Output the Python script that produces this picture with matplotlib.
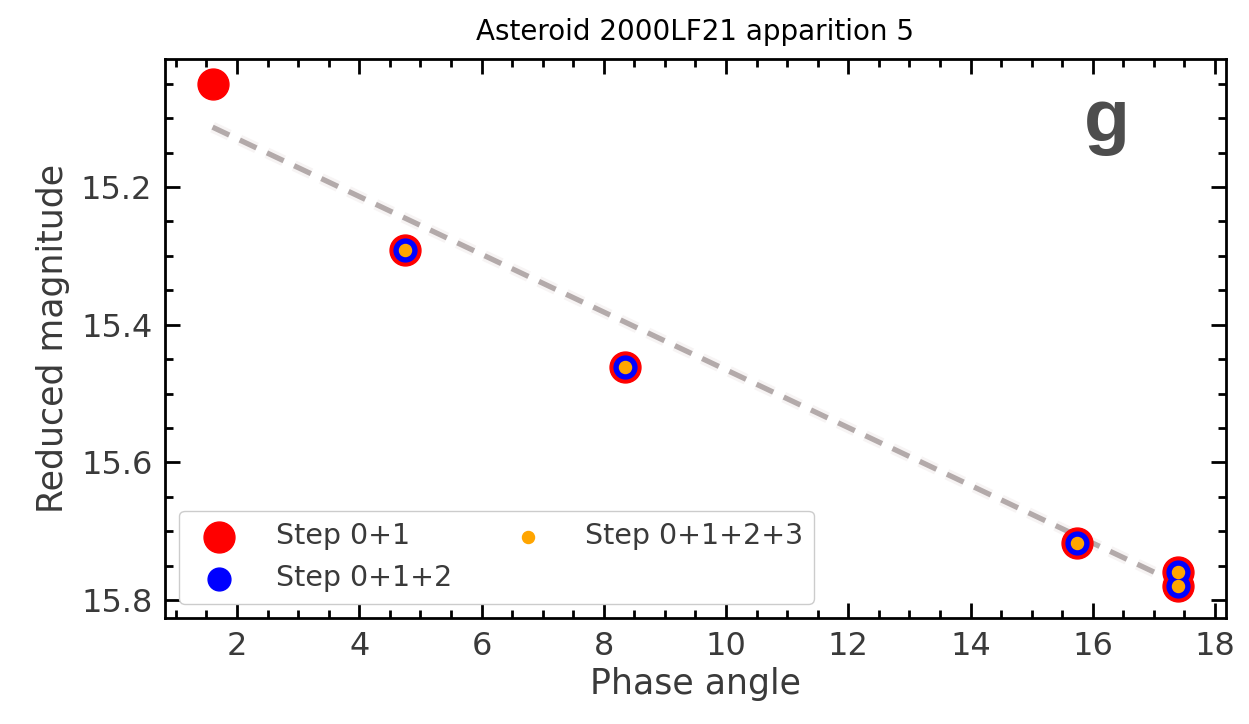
import matplotlib
matplotlib.use('Agg')
import matplotlib.pyplot as plt
import matplotlib.patheffects as pe
from matplotlib.ticker import MultipleLocator

# Step 0+1 (all points)
phase_01 = [1.6, 4.75, 8.35, 15.75, 17.4, 17.4]
mag_01 = [15.05, 15.292, 15.462, 15.717, 15.759, 15.780]
# Step 0+1+2
phase_012 = [4.75, 8.35, 15.75, 17.4, 17.4]
mag_012 = [15.292, 15.462, 15.717, 15.759, 15.780]
# Step 0+1+2+3
phase_0123 = [4.75, 8.35, 15.75, 17.4, 17.4]
mag_0123 = [15.292, 15.462, 15.717, 15.759, 15.780]
# fitted line
fit_phase = [1.6, 17.4]
fit_mag = [15.113, 15.776]

fig = plt.figure(figsize=(12.49, 7.24), dpi=100)
ax = fig.add_axes([0.132, 0.1464, 0.8496, 0.7721])

ax.plot(fit_phase, fit_mag, '--', color='#b3aaaa', linewidth=3.8, dashes=(3.5, 2.2),
        path_effects=[pe.Stroke(linewidth=8, foreground='#f7f4f4'), pe.Normal()], zorder=1)
ax.scatter(phase_01, mag_01, s=495, color='red', label='Step 0+1', zorder=2)
ax.scatter(phase_012, mag_012, s=270, color='blue', label='Step 0+1+2', zorder=3)
ax.scatter(phase_0123, mag_0123, s=75, color='orange', label='Step 0+1+2+3', zorder=4)

ax.set_xlim(0.82, 18.18)
ax.set_ylim(15.826, 15.014)
ax.xaxis.set_major_locator(MultipleLocator(2))
ax.xaxis.set_minor_locator(MultipleLocator(0.5))
ax.yaxis.set_major_locator(MultipleLocator(0.2))
ax.yaxis.set_minor_locator(MultipleLocator(0.05))
ax.tick_params(which='both', direction='in', top=True, right=True, width=2,
               labelsize=23, labelcolor='#3a3a3a', pad=9)
ax.tick_params(which='major', length=11)
ax.tick_params(which='minor', length=6)
for s in ax.spines.values():
    s.set_linewidth(2)

ax.set_xlabel('Phase angle', fontsize=25, color='#3a3a3a', labelpad=4)
ax.set_ylabel('Reduced magnitude', fontsize=25, color='#3a3a3a', labelpad=8)
ax.set_title('Asteroid 2000LF21 apparition 5', fontsize=20, pad=14)

ax.text(0.888, 0.889, 'g', transform=ax.transAxes, fontsize=54, fontweight='bold',
        family='Liberation Sans', color='#4d4d4d', ha='center', va='center')

leg = ax.legend(loc='lower left', ncol=2, fontsize=20.5, frameon=True, fancybox=True,
                edgecolor='#cccccc', framealpha=1, borderaxespad=0.5,
                columnspacing=1.65, handletextpad=1.0)
for t in leg.get_texts():
    t.set_color('#3a3a3a')

plt.savefig('out.png', dpi=100)
